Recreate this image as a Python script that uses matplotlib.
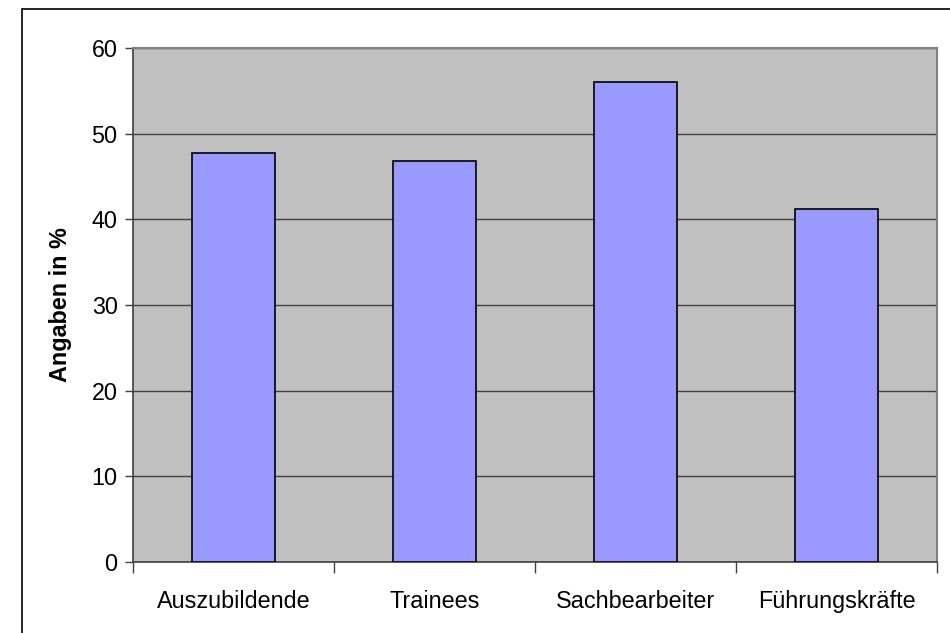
import matplotlib; matplotlib.use("Agg")
import matplotlib.pyplot as plt
from matplotlib.patches import Rectangle

categories = ["Auszubildende", "Trainees", "Sachbearbeiter", "Führungskräfte"]
values = [47.7, 46.8, 56.0, 41.2]
yticks = [0, 10, 20, 30, 40, 50, 60]

plt.rcParams["font.family"] = ["Liberation Sans", "DejaVu Sans"]

fig = plt.figure(figsize=(9.5, 6.33), dpi=100)
# outer chart frame (runs off right/bottom edge like the reference)
fig.patches.append(Rectangle((22 / 950, -0.1), 1.2, 0.1 + (1 - 9 / 633),
                             transform=fig.transFigure, fill=False,
                             edgecolor="black", lw=1.2))

ax = fig.add_axes([133 / 950, 1 - 562 / 633, (937 - 133) / 950, (562 - 48) / 633])
ax.set_facecolor("#C0C0C0")
x = range(len(categories))
ax.bar(x, values, width=0.41, color="#9999FF", edgecolor="black", lw=1.2, zorder=3)

ax.set_xlim(-0.5, len(categories) - 0.5)
ax.set_ylim(0, 60)
ax.set_yticks(yticks)
ax.tick_params(axis="y", labelsize=16.8, length=6, pad=5, color="#404040", width=1)
ax.yaxis.grid(True, color="#404040", lw=1, zorder=1)
ax.set_axisbelow(True)

# category labels centred, ticks between categories
ax.set_xticks([i - 0.5 for i in range(len(categories) + 1)])
ax.set_xticklabels([])
ax.tick_params(axis="x", length=8, color="#404040", width=1)
for i, c in enumerate(categories):
    ax.text(i, -0.055, c, transform=ax.get_xaxis_transform(), ha="center",
            va="top", fontsize=16.8)

ax.set_ylabel("Angaben in %", fontsize=16.8, fontweight="bold", labelpad=14)

for s in ["left", "bottom"]:
    ax.spines[s].set_color("#404040")
    ax.spines[s].set_linewidth(1.2)
for s in ["top", "right"]:
    ax.spines[s].set_color("#808080")
    ax.spines[s].set_linewidth(1.5)

fig.savefig("out.png", dpi=100)
